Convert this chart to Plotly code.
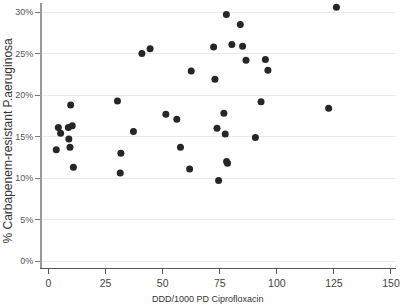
import plotly.graph_objects as go

ddd = [3.4, 4.3, 5.3, 8.7, 10.4, 9.7, 8.9, 9.4, 10.9,
       30.2, 31.7, 31.4, 37.2, 40.9, 44.5, 51.4, 56.2, 57.8, 61.8, 62.5,
       72.3, 72.9, 73.8, 74.5, 76.8, 77.4, 77.9, 78.0, 78.4, 80.3,
       84.0, 85.0, 86.5, 90.6, 93.1, 95.0, 96.1, 122.7, 126.1]
resist = [13.4, 16.1, 15.4, 16.1, 16.3, 18.8, 14.7, 13.7, 11.3,
          19.3, 13.0, 10.6, 15.6, 25.0, 25.6, 17.7, 17.1, 13.7, 11.1, 22.9,
          25.8, 21.9, 16.0, 9.7, 17.8, 15.3, 29.7, 12.0, 11.8, 26.1,
          28.5, 25.9, 24.2, 14.9, 19.2, 24.3, 23.0, 18.4, 30.6]

x_ticks = [0, 25, 50, 75, 100, 125, 150]
y_ticks = [0, 5, 10, 15, 20, 25, 30]
y_labels = ["0%", "5%", "10%", "15%", "20%", "25%", "30%"]

fig = go.Figure(go.Scatter(
    x=ddd, y=resist, mode="markers",
    marker=dict(size=7, color="#262626"),
    hoverinfo="x+y",
))

font = "Liberation Sans, Arial, sans-serif"
fig.update_layout(
    width=400, height=306,
    margin=dict(l=42, r=4, t=3, b=38),
    paper_bgcolor="white", plot_bgcolor="white",
    showlegend=False,
    font=dict(family=font, size=10, color="#333"),
    xaxis=dict(
        range=[-2.85, 152.2], tickvals=x_ticks, ticktext=[str(v) for v in x_ticks],
        showgrid=False, zeroline=False, automargin=False,
        showline=True, linecolor="#555", linewidth=1,
        ticks="outside", ticklen=5, tickcolor="#555",
        tickfont=dict(size=10.5, color="#444"),
    ),
    yaxis=dict(
        range=[-0.84, 31.1], tickvals=y_ticks, ticktext=y_labels,
        showgrid=True, gridcolor="#ebebeb", gridwidth=1, zeroline=False,
        automargin=False,
        showline=True, linecolor="#999", linewidth=2,
        ticks="outside", ticklen=5, tickcolor="#777",
        tickfont=dict(size=9, color="#555"),
    ),
    annotations=[
        dict(text="DDD/1000 PD Ciprofloxacin", xref="paper", yref="paper",
             x=(208 - 42) / 354, y=(268 - 298.5) / 265, showarrow=False,
             xanchor="center", yanchor="middle",
             font=dict(size=9, color="#333")),
        dict(text="% Carbapenem-resistant P.aeruginosa", xref="paper", yref="paper",
             x=(7.5 - 42) / 354, y=(268 - 141) / 265, showarrow=False,
             xanchor="center", yanchor="middle", textangle=-90,
             font=dict(size=12, color="#333")),
    ],
)

fig.write_html("out.html", config={"displayModeBar": False},
               post_script="document.body.style.margin='0px';document.body.style.padding='0px';")
